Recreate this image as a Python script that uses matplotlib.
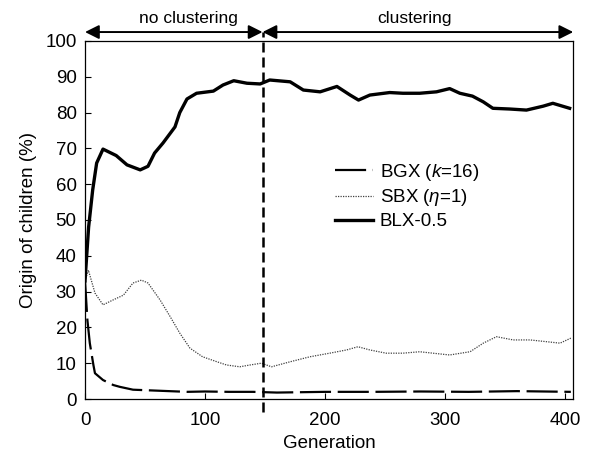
# Origin of children per crossover operator over generations

import matplotlib.pyplot as plt

plt.rcParams['font.family'] = ['Liberation Sans', 'DejaVu Sans']
plt.rcParams['mathtext.fontset'] = 'custom'
plt.rcParams['mathtext.it'] = 'Liberation Sans:italic'
plt.rcParams['mathtext.rm'] = 'Liberation Sans'

blx_gen = [0, 3, 6.4, 9.7, 15, 26, 35, 46, 52.5, 58, 65, 75, 79, 85, 93, 107, 115, 124,
           135, 146, 154, 171, 182, 196, 210, 221, 228, 237.5, 254, 265, 279, 293, 304,
           312.5, 323, 332, 340, 354, 368, 382, 390, 404]
blx_val = [33, 48, 58.4, 65.9, 69.8, 68, 65.4, 64, 65, 68.7, 71.5, 76, 80, 83.8, 85.4, 86,
           87.7, 88.9, 88.2, 88, 89.1, 88.6, 86.3, 85.8, 87.3, 84.9, 83.5, 84.9, 85.6, 85.4,
           85.4, 85.8, 86.7, 85.4, 84.6, 83, 81.2, 81, 80.7, 81.8, 82.6, 81.2]

sbx_gen = [0, 2.8, 8.3, 15, 23.6, 32, 40, 47, 52.5, 62.5, 71, 79, 87.5, 98, 110, 118, 129,
           137.5, 147, 155.5, 171, 187.5, 204, 218, 227.5, 237.5, 251, 265, 279, 290, 304,
           321, 332, 343, 357, 371, 385, 396, 405]
sbx_val = [33, 36, 29.6, 26.3, 27.7, 29, 32.4, 33.2, 32.4, 27.7, 23, 18.4, 14.2, 11.8, 10.4,
           9.5, 9, 9.5, 10, 9, 10.4, 11.8, 12.8, 13.7, 14.6, 13.7, 12.8, 12.8, 13.2, 12.8,
           12.3, 13.2, 15.6, 17.4, 16.5, 16.5, 16, 15.6, 17]

bgx_gen = [0, 2, 4, 7, 8.3, 15, 23.6, 29, 40, 55, 70, 85, 100, 120, 140, 160, 200, 240, 280,
           320, 360, 405]
bgx_val = [33, 22, 15.6, 9.5, 7.2, 5.3, 3.9, 3.4, 2.6, 2.4, 2.2, 2.0, 2.1, 2.0, 2.0, 1.8,
           2.0, 2.0, 2.1, 2.0, 2.2, 2.0]

switch_gen = 148

fig = plt.figure(figsize=(5.92, 4.59), dpi=100)
ax = fig.add_axes([0.1436, 0.1307, 0.8247, 0.78])

ax.plot(bgx_gen, bgx_val, color='black', lw=1.6, dashes=(14, 3), label='BGX ($k$=16)')
ax.plot(sbx_gen, sbx_val, color='0.25', lw=0.9, linestyle=(0, (1, 1)), label='SBX ($η$=1)')
ax.plot(blx_gen, blx_val, color='black', lw=2.4, label='BLX-0.5')

ax.set_xlim(0, 407)
ax.set_ylim(0, 100)
ax.set_xticks([0, 100, 200, 300, 400])
ax.set_yticks(range(0, 101, 10))
ax.tick_params(direction='in', length=4, width=0.8, labelsize=13.5)
ax.tick_params(axis='y', pad=6)
ax.tick_params(axis='x', pad=9)

for sp in ax.spines.values():
    sp.set_linestyle((0, (1, 1)))
    sp.set_linewidth(0.9)

ax.set_xlabel('Generation', fontsize=13.5, labelpad=5)
ax.set_ylabel('Origin of children (%)', fontsize=13.5, labelpad=6)

# phase divider and arrows
ax.plot([switch_gen, switch_gen], [-3.6, 102.5], color='black', lw=1.8, dashes=(4, 2),
        clip_on=False)
arrow = dict(arrowstyle='<|-|>', color='black', lw=1.4, mutation_scale=21,
             shrinkA=0, shrinkB=0)
ax.annotate('', xy=(0, 102.5), xytext=(switch_gen, 102.5), arrowprops=arrow,
            annotation_clip=False)
ax.annotate('', xy=(switch_gen, 102.5), xytext=(407, 102.5), arrowprops=arrow,
            annotation_clip=False)
ax.text(86, 104.2, 'no clustering', ha='center', va='bottom', fontsize=12.5)
ax.text(275, 104.2, 'clustering', ha='center', va='bottom', fontsize=12.5)

ax.legend(loc='center left', bbox_to_anchor=(0.513, 0.567), frameon=False, fontsize=13.5,
          borderaxespad=0, borderpad=0, handlelength=2.0, handletextpad=0.35,
          labelspacing=0.25)

fig.savefig('out.png', dpi=100)
